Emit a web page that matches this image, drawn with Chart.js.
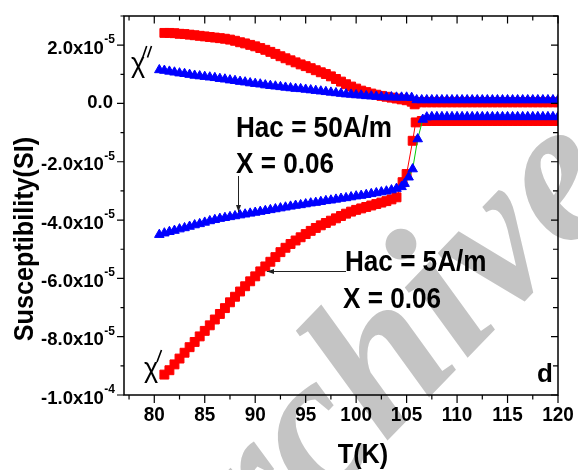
<!DOCTYPE html>
<html>
<head>
<meta charset="utf-8">
<script src="https://cdn.jsdelivr.net/npm/chart.js@4"></script>
<style>
  html, body { margin: 0; padding: 0; background: #fff; }
  canvas { display: block; }
</style>
</head>
<body>
<canvas id="chart" width="578" height="470" style="width:578px;height:470px"></canvas>
<script>
// values in units of 1e-5 SI

// chi'' , Hac = 50 A/m (blue triangles)
const tBlueImag = [80.5, 81, 81.5, 82, 82.5, 83, 83.5, 84, 84.5, 85, 85.5, 86, 86.5, 87, 87.5, 88, 88.5, 89, 89.5, 90,
  90.5, 91, 91.5, 92, 92.5, 93, 93.5, 94, 94.5, 95, 95.5, 96, 96.5, 97, 97.5, 98, 98.5, 99, 99.5, 100,
  100.5, 101, 101.5, 102, 102.5, 103, 103.5, 104, 104.5, 105, 105.5,
  106, 106.5, 107, 107.5, 108, 108.5, 109, 109.5, 110, 110.5, 111, 111.5, 112, 112.5, 113, 113.5, 114, 114.5,
  115, 115.5, 116, 116.5, 117, 117.5, 118, 118.5, 119, 119.5, 120];
const blueImag = [1.15, 1.13, 1.10, 1.07, 1.04, 1.02, 0.99, 0.96, 0.94, 0.92, 0.90, 0.88, 0.85, 0.83, 0.80, 0.78, 0.75, 0.73, 0.70, 0.68,
  0.66, 0.63, 0.61, 0.59, 0.57, 0.55, 0.53, 0.51, 0.50, 0.48, 0.46, 0.44, 0.42, 0.40, 0.38, 0.36, 0.34, 0.32, 0.31, 0.29,
  0.28, 0.26, 0.25, 0.24, 0.23, 0.22, 0.22, 0.21, 0.21, 0.21, 0.20,
  0.12, 0.12, 0.12, 0.12, 0.12, 0.12, 0.12, 0.12, 0.12, 0.12, 0.12, 0.12, 0.12, 0.12, 0.12, 0.12, 0.12, 0.12,
  0.12, 0.12, 0.12, 0.12, 0.12, 0.12, 0.12, 0.12, 0.12, 0.12, 0.12];

// chi' , Hac = 50 A/m (blue triangles)
const tBlueReal = [80.5, 81, 81.5, 82, 82.5, 83, 83.5, 84, 84.5, 85, 85.5, 86, 86.5, 87, 87.5, 88, 88.5, 89, 89.5, 90,
  90.5, 91, 91.5, 92, 92.5, 93, 93.5, 94, 94.5, 95, 95.5, 96, 96.5, 97, 97.5, 98, 98.5, 99, 99.5, 100,
  100.5, 101, 101.5, 102, 102.5, 103, 103.5, 104, 104.5, 104.8, 105.2, 105.6, 106.1, 106.6,
  107, 107.5, 108, 108.5, 109, 109.5, 110, 110.5, 111, 111.5, 112, 112.5, 113, 113.5, 114, 114.5,
  115, 115.5, 116, 116.5, 117, 117.5, 118, 118.5, 119, 119.5, 120];
const blueReal = [-4.50, -4.45, -4.40, -4.36, -4.31, -4.27, -4.22, -4.17, -4.13, -4.08, -4.03, -3.99, -3.95, -3.92, -3.89, -3.86, -3.83, -3.80, -3.77, -3.74,
  -3.71, -3.68, -3.65, -3.62, -3.59, -3.56, -3.53, -3.50, -3.48, -3.45, -3.42, -3.40, -3.37, -3.34, -3.32, -3.29, -3.26, -3.24, -3.21, -3.18,
  -3.16, -3.13, -3.10, -3.07, -3.04, -3.01, -2.97, -2.92, -2.86, -2.75, -2.53, -2.25, -1.22, -0.55,
  -0.47, -0.46, -0.46, -0.46, -0.46, -0.46, -0.46, -0.46, -0.46, -0.46, -0.46, -0.46, -0.46, -0.46, -0.46, -0.46,
  -0.46, -0.46, -0.46, -0.46, -0.46, -0.46, -0.46, -0.46, -0.46, -0.46, -0.46];

// chi'' , Hac = 5 A/m (red squares)
const tRedImag = [81, 81.5, 82, 82.5, 83, 83.5, 84, 84.5, 85, 85.5, 86, 86.5, 87, 87.5, 88, 88.5, 89, 89.5, 90,
  90.5, 91, 91.5, 92, 92.5, 93, 93.5, 94, 94.5, 95, 95.5, 96, 96.5, 97, 97.5, 98, 98.5, 99, 99.5, 100,
  100.5, 101, 101.5, 102, 102.5, 103, 103.5, 104, 104.5, 105, 105.5, 105.8,
  106, 106.5, 107, 107.5, 108, 108.5, 109, 109.5, 110, 110.5, 111, 111.5, 112, 112.5, 113, 113.5, 114, 114.5,
  115, 115.5, 116, 116.5, 117, 117.5, 118, 118.5, 119, 119.5, 120];
const redImag = [2.42, 2.42, 2.41, 2.39, 2.38, 2.36, 2.34, 2.32, 2.30, 2.28, 2.26, 2.24, 2.22, 2.19, 2.15, 2.10, 2.06, 2.01, 1.96,
  1.90, 1.84, 1.77, 1.70, 1.62, 1.55, 1.48, 1.41, 1.34, 1.28, 1.21, 1.14, 1.07, 1.01, 0.93, 0.84, 0.75, 0.66, 0.58, 0.51,
  0.44, 0.39, 0.34, 0.30, 0.26, 0.23, 0.20, 0.17, 0.14, 0.11, 0.06, -0.03,
  0.04, 0.04, 0.04, 0.04, 0.04, 0.04, 0.04, 0.04, 0.04, 0.04, 0.04, 0.04, 0.04, 0.04, 0.04, 0.04, 0.04, 0.04,
  0.04, 0.04, 0.04, 0.04, 0.04, 0.04, 0.04, 0.04, 0.04, 0.04, 0.04];

// chi' , Hac = 5 A/m (red squares)
const tRedReal = [81, 81.5, 82, 82.5, 83, 83.5, 84, 84.5, 85, 85.5, 86, 86.5, 87, 87.5, 88, 88.5, 89, 89.5, 90,
  90.5, 91, 91.5, 92, 92.5, 93, 93.5, 94, 94.5, 95, 95.5, 96, 96.5, 97, 97.5, 98, 98.5, 99, 99.5, 100,
  100.5, 101, 101.5, 102, 102.5, 103, 103.5, 104, 104.6, 105.0, 105.6, 105.9, 106.5,
  107, 107.5, 108, 108.5, 109, 109.5, 110, 110.5, 111, 111.5, 112, 112.5, 113, 113.5, 114, 114.5,
  115, 115.5, 116, 116.5, 117, 117.5, 118, 118.5, 119, 119.5, 120];
const redReal = [-9.30, -9.15, -8.95, -8.75, -8.55, -8.36, -8.18, -7.99, -7.80, -7.61, -7.41, -7.22, -7.02, -6.82, -6.63, -6.45, -6.27, -6.10, -5.93,
  -5.76, -5.59, -5.43, -5.27, -5.10, -4.95, -4.82, -4.70, -4.59, -4.48, -4.37, -4.27, -4.18, -4.10, -4.02, -3.94, -3.86, -3.78, -3.71, -3.65,
  -3.60, -3.55, -3.50, -3.45, -3.40, -3.35, -3.29, -3.22, -2.70, -2.42, -1.28, -0.65, -0.60,
  -0.60, -0.60, -0.60, -0.60, -0.60, -0.60, -0.60, -0.60, -0.60, -0.60, -0.60, -0.60, -0.60, -0.60, -0.60, -0.60,
  -0.60, -0.60, -0.60, -0.60, -0.60, -0.60, -0.60, -0.60, -0.60, -0.60, -0.60];

// axis ticks
const xTickLabels = [80, 85, 90, 95, 100, 105, 110, 115, 120];
const yTickValues = [2, 0, -2, -4, -6, -8, -10];
const yTickMant = ["2.0", "0.0", "-2.0", "-4.0", "-6.0", "-8.0", "-1.0"];
const yTickExp = ["-5", "", "-5", "-5", "-5", "-5", "-4"];

function pts(t, v) {
  return t.map((x, i) => ({ x: x, y: v[i] }));
}

function txt(ctx, s, x, y, font, sx, align) {
  ctx.save();
  ctx.translate(x, y);
  ctx.scale(sx, 1);
  ctx.font = font;
  ctx.textAlign = align || "left";
  ctx.textBaseline = "alphabetic";
  ctx.fillText(s, 0, 0);
  ctx.restore();
}

function arrow(ctx, x1, y1, x2, y2) {
  const a = Math.atan2(y2 - y1, x2 - x1);
  ctx.beginPath();
  ctx.moveTo(x1, y1);
  ctx.lineTo(x2, y2);
  ctx.stroke();
  ctx.beginPath();
  ctx.moveTo(x2, y2);
  ctx.lineTo(x2 - 7 * Math.cos(a) + 2.5 * Math.sin(a), y2 - 7 * Math.sin(a) - 2.5 * Math.cos(a));
  ctx.lineTo(x2 - 7 * Math.cos(a) - 2.5 * Math.sin(a), y2 - 7 * Math.sin(a) + 2.5 * Math.cos(a));
  ctx.closePath();
  ctx.fill();
}

const FONT = "'Liberation Sans', Arial, sans-serif";

const decor = {
  id: "decor",
  beforeDraw(chart) {
    // watermark
    const ctx = chart.ctx;
    ctx.save();
    ctx.fillStyle = "#c4c4c4";
    ctx.translate(195, 640);
    ctx.rotate(-46 * Math.PI / 180);
    ctx.font = "bold italic 205px 'Liberation Serif', serif";
    ctx.fillText("archive", 0, 0);
    ctx.restore();
  },
  afterDraw(chart) {
    const ctx = chart.ctx;
    const xs = chart.scales.x;
    const ys = chart.scales.y;
    const a = chart.chartArea;
    ctx.save();
    ctx.strokeStyle = "#000";
    ctx.fillStyle = "#000";
    ctx.lineWidth = 1.5;
    ctx.strokeRect(a.left, a.top, a.right - a.left, a.bottom - a.top);

    // x ticks (bottom out, top in)
    ctx.lineWidth = 1.2;
    for (let v = 77.5; v <= 120; v += 2.5) {
      const px = xs.getPixelForValue(v);
      const major = v % 5 === 0;
      ctx.beginPath();
      ctx.moveTo(px, a.bottom);
      ctx.lineTo(px, a.bottom + (major ? 8 : 4.5));
      ctx.moveTo(px, a.top);
      ctx.lineTo(px, a.top + (major ? 7.5 : 4.5));
      ctx.stroke();
    }
    // y ticks (left out, right in)
    for (let v = -10; v <= 3; v += 1) {
      const py = ys.getPixelForValue(v);
      const major = v % 2 === 0;
      ctx.beginPath();
      ctx.moveTo(a.left, py);
      ctx.lineTo(a.left - (major ? 7 : 3.5), py);
      ctx.moveTo(a.right, py);
      ctx.lineTo(a.right - (major ? 7 : 5), py);
      ctx.stroke();
    }

    // x tick labels
    xTickLabels.forEach((v) => {
      txt(ctx, String(v), xs.getPixelForValue(v), a.bottom + 26, "bold 21px " + FONT, 0.9, "center");
    });
    // y tick labels with superscript exponent
    yTickValues.forEach((v, i) => {
      const py = ys.getPixelForValue(v);
      const right = 115;
      if (yTickExp[i]) {
        ctx.font = "bold 12px " + FONT;
        const w = ctx.measureText(yTickExp[i]).width;
        txt(ctx, yTickExp[i], right, py - 2, "bold 12px " + FONT, 1, "right");
        txt(ctx, yTickMant[i] + "x10", right - w - 0.5, py + 8.5, "bold 18.5px " + FONT, 1, "right");
      } else {
        txt(ctx, yTickMant[i], right - 2, py + 5, "bold 18.5px " + FONT, 1, "right");
      }
    });

    // axis titles
    txt(ctx, "T(K)", 363, 463, "bold 28px " + FONT, 0.9, "center");
    ctx.save();
    ctx.translate(33, 239);
    ctx.rotate(-Math.PI / 2);
    ctx.scale(0.9, 1);
    ctx.font = "bold 28px " + FONT;
    ctx.textAlign = "center";
    ctx.fillText("Susceptibility(SI)", 0, 0);
    ctx.restore();

    // annotations
    const f = "bold 29px " + FONT;
    txt(ctx, "Hac = 50A/m", 236, 136.5, f, 0.9);
    txt(ctx, "X = 0.06", 236, 173, f, 0.9);
    txt(ctx, "Hac = 5A/m", 345, 270.5, f, 0.9);
    txt(ctx, "X = 0.06", 343, 308, f, 0.9);
    txt(ctx, "d", 537, 382, "bold 26px " + FONT, 1);

    ctx.lineWidth = 1;
    ctx.strokeStyle = "#222";
    ctx.fillStyle = "#222";
    arrow(ctx, 238.5, 176, 238.5, 212);
    arrow(ctx, 346, 271.5, 267, 271.5);

    // chi labels
    ctx.fillStyle = "#000";
    ctx.strokeStyle = "#000";
    txt(ctx, "\u03c7", 131, 72, "27px " + FONT, 1);
    txt(ctx, "\u03c7", 144, 377, "27px " + FONT, 1);
    ctx.lineWidth = 1.6;
    ctx.beginPath();
    ctx.moveTo(142.7, 57.5); ctx.lineTo(146.7, 46);
    ctx.moveTo(147.5, 57.5); ctx.lineTo(151.5, 46);
    ctx.moveTo(157, 362); ctx.lineTo(161.5, 350);
    ctx.stroke();
    ctx.restore();
  }
};

const blueStyle = {
  showLine: true,
  borderColor: "#00cc00",
  borderWidth: 1,
  pointStyle: "triangle",
  pointRadius: 5.5,
  pointBackgroundColor: "#0000ff",
  pointBorderColor: "#0000ff",
  pointBorderWidth: 1,
};
const redStyle = {
  showLine: true,
  borderColor: "#ff0000",
  borderWidth: 1,
  pointStyle: "rect",
  pointRadius: 6.3,
  pointBackgroundColor: "#ff0000",
  pointBorderColor: "#ff0000",
  pointBorderWidth: 1,
};

new Chart(document.getElementById("chart"), {
  type: "scatter",
  data: {
    datasets: [
      Object.assign({ label: "chi'' 50A/m", data: pts(tBlueImag, blueImag) }, blueStyle),
      Object.assign({ label: "chi' 50A/m", data: pts(tBlueReal, blueReal) }, blueStyle),
      Object.assign({ label: "chi'' 5A/m", data: pts(tRedImag, redImag) }, redStyle),
      Object.assign({ label: "chi' 5A/m", data: pts(tRedReal, redReal) }, redStyle),
    ],
  },
  options: {
    responsive: false,
    animation: false,
    layout: { padding: { left: 124, right: 20, top: 16, bottom: 75 } },
    plugins: { legend: { display: false }, tooltip: { enabled: false } },
    scales: {
      x: { type: "linear", min: 77, max: 120, display: false },
      y: { type: "linear", min: -10, max: 3, display: false },
    },
  },
  plugins: [decor],
});
</script>
</body>
</html>
